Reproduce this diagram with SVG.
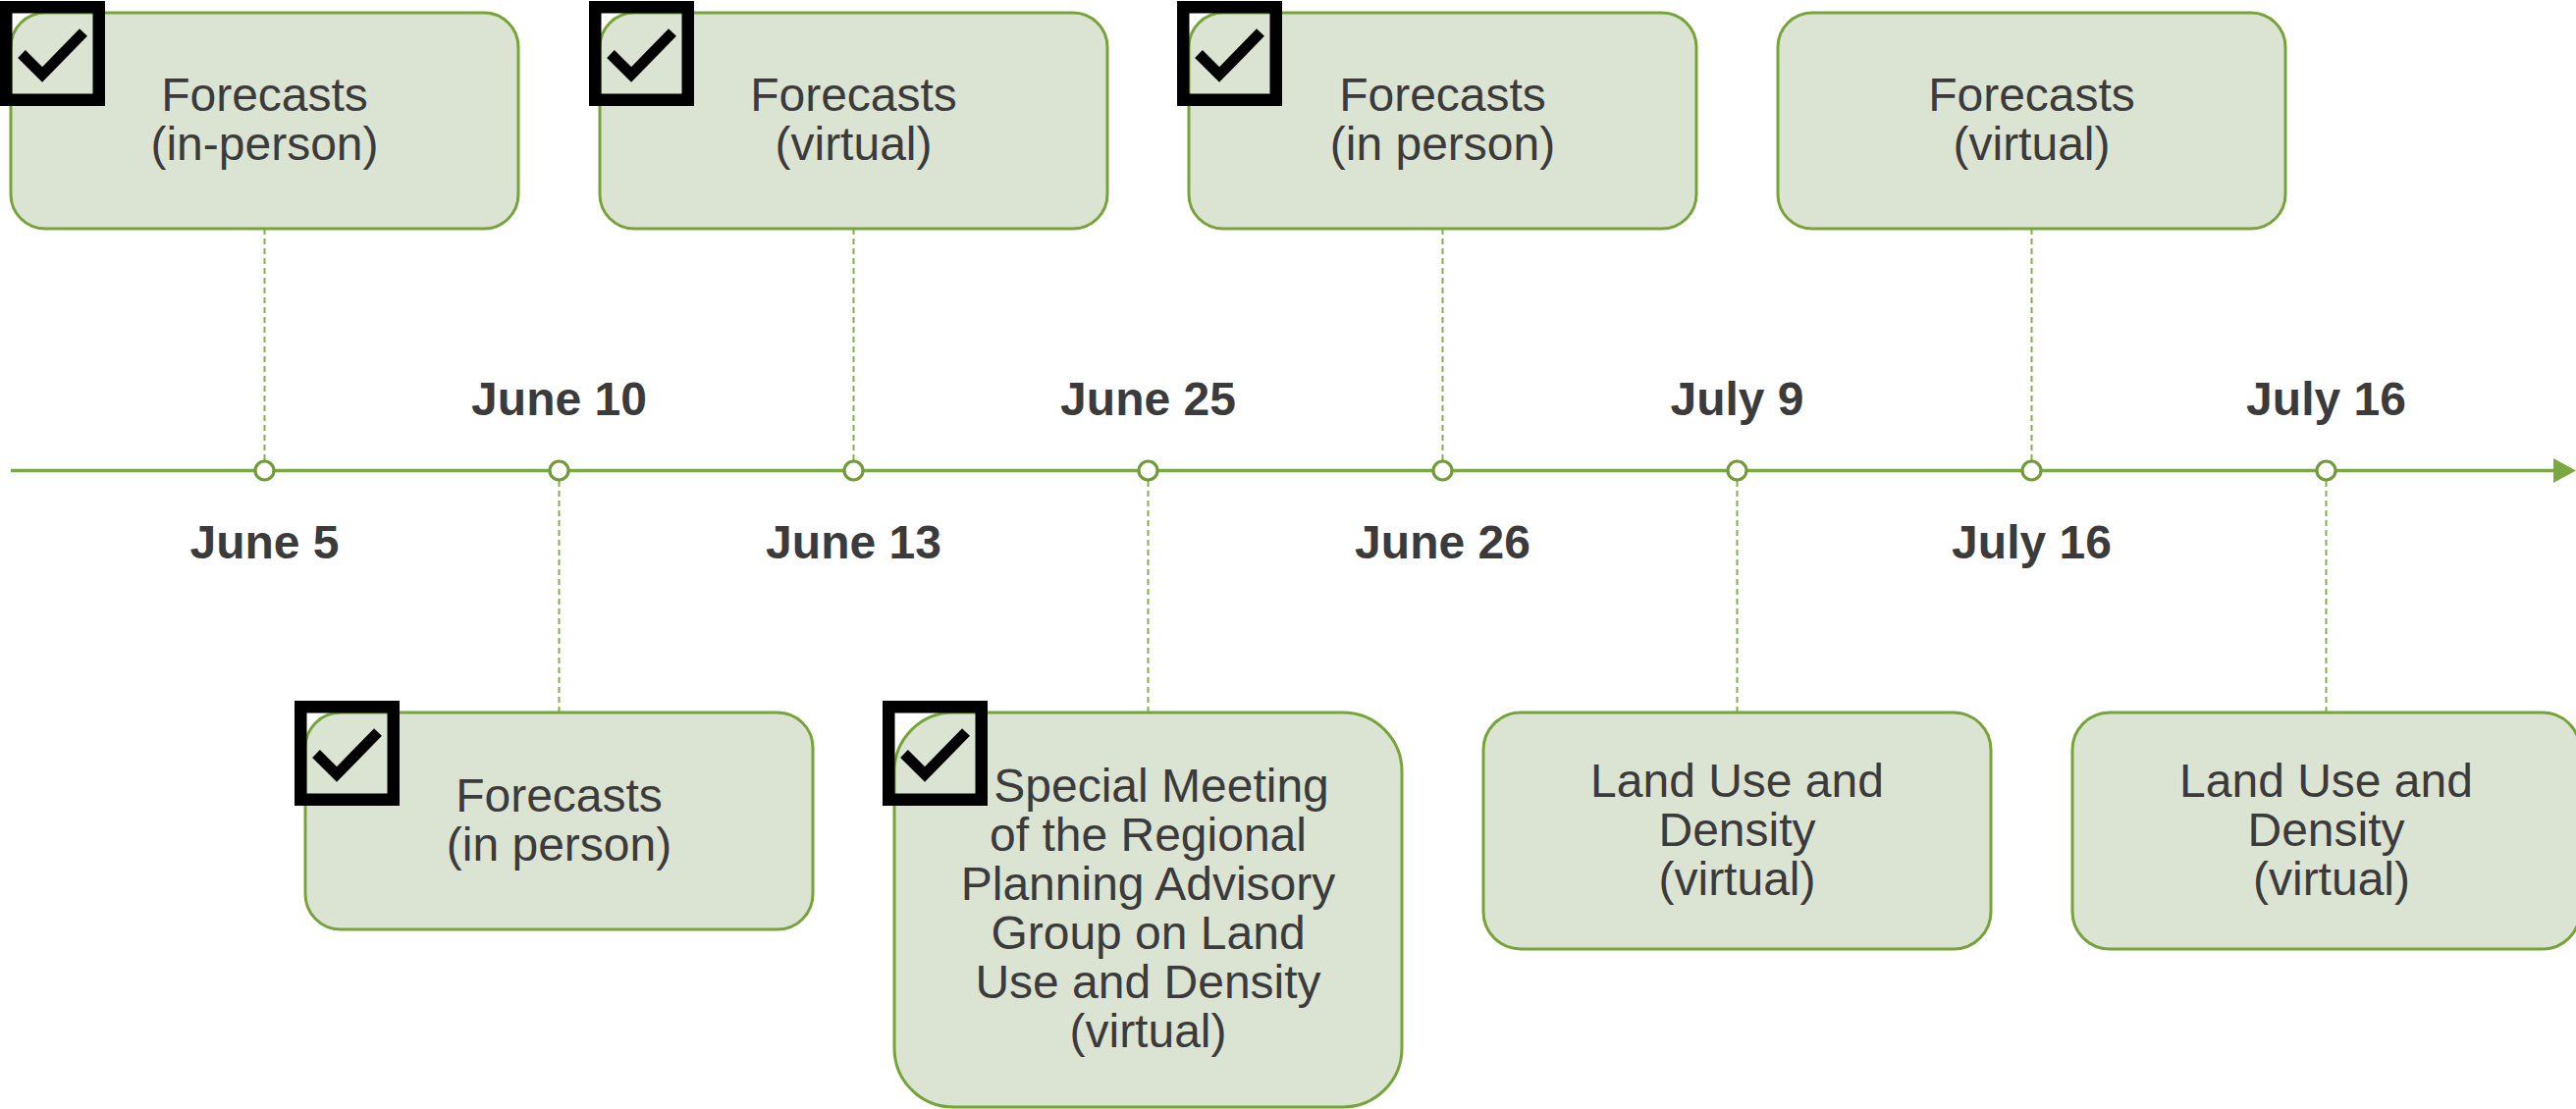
<svg xmlns="http://www.w3.org/2000/svg" width="2624" height="1130" viewBox="0 0 2624 1130">
  <style>
    .box { fill: #dbe3d2; stroke: #76a43a; stroke-width: 3; }
    .lbl { font-family: "Liberation Sans", Arial, sans-serif; font-size: 48px; fill: #3b3b3b; text-anchor: middle; }
    .date { font-family: "Liberation Sans", Arial, sans-serif; font-size: 48px; font-weight: bold; fill: #3b3b3b; text-anchor: middle; }
    .lead { stroke: #82af48; stroke-width: 2; stroke-dasharray: 6 4; fill: none; }
    .dot { fill: #ffffff; stroke: #6f9c33; stroke-width: 3.2; }
  </style>
  <defs>
    <!-- completed-item tick box -->
    <g id="tick">
      <rect x="6.25" y="6.25" width="94.5" height="94.5" fill="none" stroke="#000" stroke-width="12.5"/>
      <polyline points="22,54 43,75 85,32" fill="none" stroke="#000" stroke-width="11" stroke-linejoin="miter" stroke-linecap="butt"/>
    </g>
  </defs>

  <rect width="2624" height="1130" fill="#ffffff"/>

  <!-- timeline axis and leader lines -->
  <g id="connectors">
    <line x1="11" y1="479.5" x2="2604" y2="479.5" stroke="#7aa943" stroke-width="3.5"/>
    <polygon points="2601,467 2624,479.5 2601,492" fill="#7aa943"/>
    <line class="lead" x1="269.5" y1="233" x2="269.5" y2="469"/>
    <line class="lead" x1="869.5" y1="233" x2="869.5" y2="469"/>
    <line class="lead" x1="1469.5" y1="233" x2="1469.5" y2="469"/>
    <line class="lead" x1="2069.5" y1="233" x2="2069.5" y2="469"/>
    <line class="lead" x1="569.5" y1="490" x2="569.5" y2="726"/>
    <line class="lead" x1="1169.5" y1="490" x2="1169.5" y2="726"/>
    <line class="lead" x1="1769.5" y1="490" x2="1769.5" y2="726"/>
    <line class="lead" x1="2369.5" y1="490" x2="2369.5" y2="726"/>
    <circle class="dot" cx="269.5" cy="479.5" r="9.5"/>
    <circle class="dot" cx="569.5" cy="479.5" r="9.5"/>
    <circle class="dot" cx="869.5" cy="479.5" r="9.5"/>
    <circle class="dot" cx="1169.5" cy="479.5" r="9.5"/>
    <circle class="dot" cx="1469.5" cy="479.5" r="9.5"/>
    <circle class="dot" cx="1769.5" cy="479.5" r="9.5"/>
    <circle class="dot" cx="2069.5" cy="479.5" r="9.5"/>
    <circle class="dot" cx="2369.5" cy="479.5" r="9.5"/>
  </g>

  <!-- dates -->
  <g id="dates">
    <text class="date" x="269.5" y="569">June 5</text>
    <text class="date" x="569.5" y="423">June 10</text>
    <text class="date" x="869.5" y="569">June 13</text>
    <text class="date" x="1169.5" y="423">June 25</text>
    <text class="date" x="1469.5" y="569">June 26</text>
    <text class="date" x="1769.5" y="423">July 9</text>
    <text class="date" x="2069.5" y="569">July 16</text>
    <text class="date" x="2369.5" y="423">July 16</text>
  </g>

  <!-- events above the axis -->
  <g id="ev-june5">
    <rect class="box" x="11" y="13" width="517" height="220" rx="35"/>
    <text class="lbl" x="269.5" y="113">Forecasts</text>
    <text class="lbl" x="269.5" y="163">(in-person)</text>
    <use href="#tick" x="0" y="1"/>
  </g>
  <g id="ev-june13">
    <rect class="box" x="611" y="13" width="517" height="220" rx="35"/>
    <text class="lbl" x="869.5" y="113">Forecasts</text>
    <text class="lbl" x="869.5" y="163">(virtual)</text>
    <use href="#tick" x="600" y="1"/>
  </g>
  <g id="ev-june26">
    <rect class="box" x="1211" y="13" width="517" height="220" rx="35"/>
    <text class="lbl" x="1469.5" y="113">Forecasts</text>
    <text class="lbl" x="1469.5" y="163">(in person)</text>
    <use href="#tick" x="1199" y="1"/>
  </g>
  <g id="ev-july16a">
    <rect class="box" x="1811" y="13" width="517" height="220" rx="35"/>
    <text class="lbl" x="2069.5" y="113">Forecasts</text>
    <text class="lbl" x="2069.5" y="163">(virtual)</text>
  </g>

  <!-- events below the axis -->
  <g id="ev-june10">
    <rect class="box" x="311" y="726" width="517" height="221" rx="36"/>
    <text class="lbl" x="569.5" y="827">Forecasts</text>
    <text class="lbl" x="569.5" y="877">(in person)</text>
    <use href="#tick" x="300" y="714"/>
  </g>
  <g id="ev-june25">
    <rect class="box" x="911" y="726" width="517" height="402" rx="60"/>
    <text class="lbl" x="1183" y="817">Special Meeting</text>
    <text class="lbl" x="1169.5" y="867">of the Regional</text>
    <text class="lbl" x="1169.5" y="917">Planning Advisory</text>
    <text class="lbl" x="1169.5" y="967">Group on Land</text>
    <text class="lbl" x="1169.5" y="1017">Use and Density</text>
    <text class="lbl" x="1169.5" y="1067">(virtual)</text>
    <use href="#tick" x="899" y="714"/>
  </g>
  <g id="ev-july9">
    <rect class="box" x="1511" y="726" width="517" height="241" rx="38"/>
    <text class="lbl" x="1769.5" y="812">Land Use and</text>
    <text class="lbl" x="1769.5" y="862">Density</text>
    <text class="lbl" x="1769.5" y="912">(virtual)</text>
  </g>
  <g id="ev-july16b">
    <rect class="box" x="2111" y="726" width="517" height="241" rx="38"/>
    <text class="lbl" x="2369.5" y="812">Land Use and</text>
    <text class="lbl" x="2369.5" y="862">Density</text>
    <text class="lbl" x="2375" y="912">(virtual)</text>
  </g>
</svg>
